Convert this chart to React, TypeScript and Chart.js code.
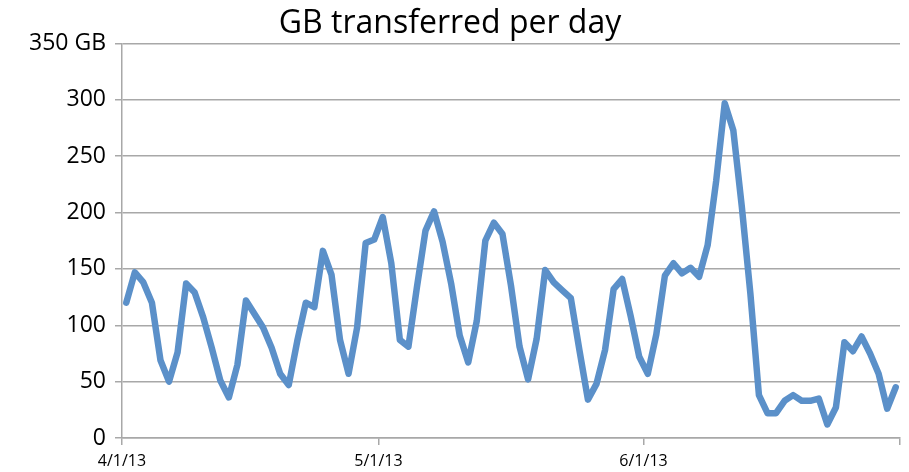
import React, { useEffect, useRef } from "react";
import { Chart, registerables } from "chart.js";

Chart.register(...registerables);

const titleText = "GB transferred per day";
// Daily GB values, 4/1/13 through 6/30/13 (91 days)
const gbPerDay: number[] = [
  120, 147, 138, 120, 69, 50, 76, 137, 129, 107,
  80, 51, 36, 65, 122, 110, 98, 80, 57, 47,
  86, 120, 116, 166, 145, 87, 57, 98, 173, 176,
  196, 155, 87, 81, 134, 184, 201, 174, 137, 91,
  67, 104, 175, 191, 181, 135, 81, 52, 88, 149,
  138, 131, 124, 78, 34, 48, 78, 132, 141, 108,
  72, 57, 92, 144, 155, 146, 151, 143, 171, 228,
  297, 273, 205, 128, 38, 22, 22, 33, 38, 33,
  33, 35, 12, 27, 85, 77, 90, 75, 57, 26, 45,
];
// x tick positions (day offsets from 4/1/13) and their labels
const xTickDays: number[] = [0, 30, 61, 91];
const xTickLabels: string[] = ["4/1/13", "5/1/13", "6/1/13", ""];
const yTicks: number[] = [0, 50, 100, 150, 200, 250, 300, 350];
const yTopLabel = "350 GB";

export default function App() {
  const ref = useRef<HTMLCanvasElement | null>(null);
  useEffect(() => {
    document.body.style.margin = "0";
    const canvas = ref.current;
    if (!canvas) return;
    const gridColor = "#a8a8a8";
    const chart = new Chart(canvas, {
      type: "line",
      data: {
        datasets: [
          {
            data: gbPerDay.map((v, i) => ({ x: i + 0.5, y: v })),
            borderColor: "#5b90c9",
            borderWidth: 6.5,
            pointRadius: 0,
            borderJoinStyle: "round",
            borderCapStyle: "round",
            tension: 0,
            fill: false,
          },
        ],
      },
      options: {
        responsive: false,
        animation: false,
        layout: { padding: { left: 0, right: 9, top: 0, bottom: 0 } },
        plugins: {
          legend: { display: false },
          tooltip: { enabled: false },
          title: {
            display: true,
            text: titleText,
            color: "#000",
            font: { family: "'Open Sans', sans-serif", size: 32, weight: "normal" },
            padding: { top: 5, bottom: 0 },
          },
        },
        scales: {
          x: {
            type: "linear",
            min: xTickDays[0],
            max: xTickDays[xTickDays.length - 1],
            afterBuildTicks: (scale: any) => {
              scale.ticks = xTickDays.map((v) => ({ value: v }));
            },
            afterFit: (scale: any) => {
              scale.height = 34;
            },
            ticks: {
              autoSkip: false,
              maxRotation: 0,
              color: "#000",
              font: { family: "'Open Sans', sans-serif", size: 16 },
              padding: 7,
              callback: (v: any) => {
                const idx = xTickDays.indexOf(Number(v));
                return idx >= 0 ? xTickLabels[idx] : "";
              },
            },
            grid: {
              drawOnChartArea: false,
              drawTicks: true,
              tickLength: 7,
              color: gridColor,
              lineWidth: 1.5,
            },
            border: { display: true, color: gridColor, width: 1.5 },
          },
          y: {
            min: 0,
            max: 350,
            afterBuildTicks: (scale: any) => {
              scale.ticks = yTicks.map((v) => ({ value: v }));
            },
            afterFit: (scale: any) => {
              scale.width = 122;
            },
            ticks: {
              color: "#000",
              font: { family: "'Open Sans', sans-serif", size: 23 },
              padding: 9,
              callback: (v: any) => (Number(v) === 350 ? yTopLabel : String(v)),
            },
            grid: {
              drawOnChartArea: true,
              drawTicks: true,
              tickLength: 7,
              color: gridColor,
              lineWidth: 1.5,
            },
            border: { display: true, color: gridColor, width: 1.5 },
          },
        },
      },
    } as any);
    return () => chart.destroy();
  }, []);
  return (
    <div style={{ width: 909, height: 472 }}>
      <canvas ref={ref} width={909} height={472} style={{ display: "block" }} />
    </div>
  );
}
